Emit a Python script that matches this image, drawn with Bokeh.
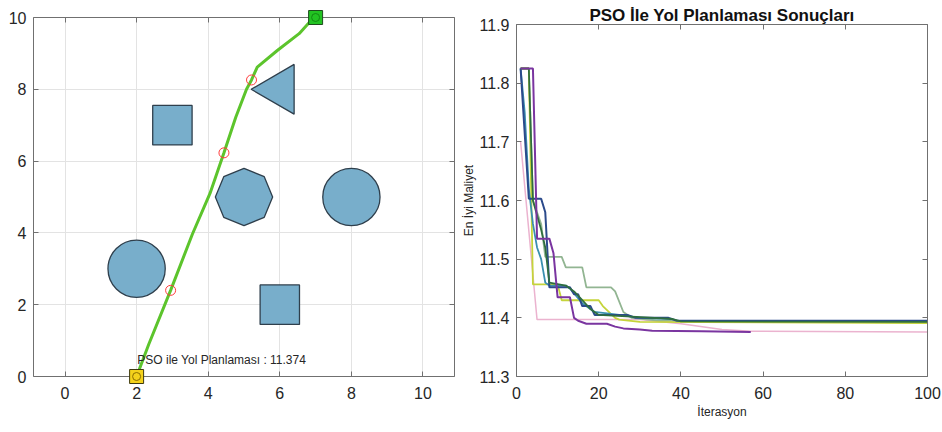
import numpy as np
from bokeh.plotting import figure
from bokeh.layouts import row, column
from bokeh.models import Range1d, FixedTicker, LinearAxis, PrintfTickFormatter, CustomJSTickFormatter
from bokeh.core.properties import value
from bokeh.embed import file_html
from bokeh.resources import INLINE

FONT = "Liberation Sans"

# ---------------- Left: path planning map ----------------
circle_x = [2, 8]
circle_y = [3, 5]
circle_r = [0.8, 0.8]
square_x = [3, 6]
square_y = [7, 2]
square_side = [1.1, 1.1]
poly_x = [6, 5]
poly_y = [8, 5]
poly_r = [0.8, 0.8]
poly_sides = [3, 8]
poly_start_deg = [180, 90]

path_x = [2.00, 2.34, 2.95, 3.56, 4.05, 4.44, 4.77, 5.07, 5.21, 5.37, 5.93, 6.54, 6.86, 7.00]
path_y = [0.00, 0.90, 2.40, 3.97, 5.10, 6.23, 7.22, 8.00, 8.26, 8.62, 9.08, 9.55, 9.90, 10.00]
way_x = [2.95, 4.44, 5.21]
way_y = [2.40, 6.23, 8.26]
start_x, start_y = [2], [0]
goal_x, goal_y = [7], [10]
cost_text = ["PSO ile Yol Planlaması : 11.374"]
cost_x, cost_y = [2.02], [0.46]
map_ticks = [0, 2, 4, 6, 8, 10]

# ---------------- Right: convergence curves ----------------
conv_title = "PSO İle Yol Planlaması Sonuçları"
conv_xlabel = "İterasyon"
conv_ylabel = "En İyi Maliyet"
conv_xticks = [0, 20, 40, 60, 80, 100]
conv_yticks = [11.3, 11.4, 11.5, 11.6, 11.7, 11.8, 11.9]

pink_it = [1, 5, 30, 40, 50, 57, 100]
pink_v = [11.70, 11.397, 11.397, 11.39, 11.38, 11.377, 11.376]
graygreen_it = [1, 3, 4, 6, 7, 11, 12, 16, 17, 23, 24, 26, 28, 35, 100]
graygreen_v = [11.825, 11.825, 11.60, 11.56, 11.504, 11.504, 11.486, 11.486, 11.452, 11.452, 11.445, 11.41, 11.40, 11.395, 11.392]
yellowgreen_it = [1, 3, 4, 10, 11, 20, 21, 24, 25, 30, 100]
yellowgreen_v = [11.825, 11.825, 11.457, 11.457, 11.43, 11.43, 11.42, 11.40, 11.397, 11.393, 11.391]
teal_it = [1, 2, 3, 4, 5, 6, 7, 8, 12, 13, 16, 19, 25, 30, 38]
teal_v = [11.825, 11.75, 11.62, 11.56, 11.52, 11.50, 11.46, 11.455, 11.455, 11.45, 11.425, 11.41, 11.405, 11.40, 11.398]
navy_it = [1, 3, 6, 7, 8, 13, 14, 15, 16, 18, 19, 27, 29, 37, 39, 100]
navy_v = [11.825, 11.603, 11.603, 11.58, 11.452, 11.452, 11.44, 11.44, 11.42, 11.42, 11.405, 11.405, 11.40, 11.40, 11.395, 11.395]
darkgreen_it = [1, 3, 4, 6, 7, 8, 12, 14, 16, 18, 20, 28, 38, 40, 100]
darkgreen_v = [11.825, 11.825, 11.60, 11.55, 11.52, 11.46, 11.455, 11.445, 11.43, 11.415, 11.405, 11.402, 11.398, 11.394, 11.393]
purple_it = [1, 4, 5, 8, 9, 10, 13, 14, 15, 17, 22, 24, 26, 30, 33, 45, 57]
purple_v = [11.825, 11.825, 11.535, 11.535, 11.51, 11.435, 11.435, 11.40, 11.395, 11.39, 11.39, 11.385, 11.382, 11.38, 11.378, 11.377, 11.376]

AXIS_COL = "#707070"
LABEL_COL = "#262626"


def style_axes(p, xticks, yticks, grid):
    xb = p.below[0]
    yl = p.left[0]
    for ax in (xb, yl):
        ax.axis_line_color = AXIS_COL
        ax.major_tick_line_color = AXIS_COL
        ax.minor_tick_line_color = None
        ax.major_tick_in = 5
        ax.major_tick_out = 0
        ax.major_label_text_font = FONT
        ax.major_label_text_font_size = "16px"
        ax.major_label_text_color = LABEL_COL
    xb.ticker = FixedTicker(ticks=xticks)
    yl.ticker = FixedTicker(ticks=yticks)
    xb.major_label_standoff = 10
    yl.major_label_standoff = 7
    blank = CustomJSTickFormatter(code="return ''")
    top = LinearAxis(ticker=FixedTicker(ticks=xticks), formatter=blank,
                     axis_line_color=AXIS_COL, major_tick_line_color=AXIS_COL,
                     minor_tick_line_color=None, major_tick_in=5, major_tick_out=0,
                     major_label_standoff=0, major_label_text_font_size="1px")
    right = LinearAxis(ticker=FixedTicker(ticks=yticks), formatter=blank,
                       axis_line_color=AXIS_COL, major_tick_line_color=AXIS_COL,
                       minor_tick_line_color=None, major_tick_in=5, major_tick_out=0,
                       major_label_standoff=0, major_label_text_font_size="1px")
    p.add_layout(top, "above")
    p.add_layout(right, "right")
    if grid:
        p.xgrid.ticker = FixedTicker(ticks=xticks)
        p.ygrid.ticker = FixedTicker(ticks=yticks)
        p.grid.grid_line_color = "#e3e3e3"
        p.grid.grid_line_width = 1
    else:
        p.grid.grid_line_color = None
    p.outline_line_color = None
    return xb, yl


# ---------- left figure ----------
p1 = figure(width=458, height=432, output_backend="svg", toolbar_location=None,
            title_location=None,
            x_range=Range1d(-0.88, 10.88), y_range=Range1d(0, 10),
            min_border_left=33, min_border_right=4, min_border_top=17, min_border_bottom=56)
style_axes(p1, map_ticks, map_ticks, True)

SHAPE_FILL = "#78aecb"
SHAPE_LINE = "#2f3f4c"
p1.circle(x=circle_x, y=circle_y, radius=circle_r, fill_color=SHAPE_FILL,
          line_color=SHAPE_LINE, line_width=1.3)
p1.rect(x=square_x, y=square_y, width=square_side, height=square_side,
        fill_color=SHAPE_FILL, line_color=SHAPE_LINE, line_width=1.3)
pxs, pys = [], []
for cx, cy, r, n, a0 in zip(poly_x, poly_y, poly_r, poly_sides, poly_start_deg):
    ang = np.deg2rad(a0) + np.arange(n) * 2 * np.pi / n
    pxs.append(list(cx + r * np.cos(ang)))
    pys.append(list(cy + r * np.sin(ang)))
p1.patches(xs=pxs, ys=pys, fill_color=SHAPE_FILL, line_color=SHAPE_LINE, line_width=1.3)

p1.line(path_x, path_y, line_color="#5cc42c", line_width=3)
p1.scatter(way_x, way_y, marker="circle", size=10, fill_color=None,
           line_color="#ff3b3b", line_width=1)
p1.scatter(start_x, start_y, marker="square", size=14, fill_color="#f4d21c",
           line_color="#3d3a10", line_width=1, level="overlay")
p1.scatter(start_x, start_y, marker="circle", size=8, fill_color=None,
           line_color="#8a6d00", line_width=1, level="overlay")
p1.scatter(goal_x, goal_y, marker="square", size=14, fill_color="#22c322",
           line_color="#1d4d1d", line_width=1, level="overlay")
p1.scatter(goal_x, goal_y, marker="circle", size=8, fill_color=None,
           line_color="#128a12", line_width=1, level="overlay")
p1.text(x=cost_x, y=cost_y, text=cost_text, text_font=value(FONT),
        text_font_size="12px", text_color=LABEL_COL, text_baseline="middle",
        text_align="left")

# ---------- right figure ----------
p2 = figure(width=484, height=432, output_backend="svg", toolbar_location=None,
            x_range=Range1d(0, 100), y_range=Range1d(11.3, 11.9),
            min_border_left=54, min_border_right=15, min_border_top=24, min_border_bottom=56)
xb2, yl2 = style_axes(p2, conv_xticks, conv_yticks, False)
yl2.formatter = PrintfTickFormatter(format="%.1f")
p2.title.text = conv_title
p2.title.align = "center"
p2.title.text_font = FONT
p2.title.text_font_size = "17px"
p2.title.text_font_style = "bold"
p2.title.text_color = "#111111"
p2.title.standoff = 0
p2.title.offset = 0
xb2.axis_label = conv_xlabel
yl2.axis_label = conv_ylabel
for ax in (xb2, yl2):
    ax.axis_label_text_font = FONT
    ax.axis_label_text_font_size = "12px"
    ax.axis_label_text_font_style = "normal"
    ax.axis_label_text_color = LABEL_COL
xb2.axis_label_standoff = 3
yl2.axis_label_standoff = 1

p2.line(pink_it, pink_v, line_color="#ebb3cf", line_width=1.5)
p2.line(graygreen_it, graygreen_v, line_color="#92b592", line_width=1.8)
p2.line(yellowgreen_it, yellowgreen_v, line_color="#c5d43a", line_width=1.8)
p2.line(teal_it, teal_v, line_color="#3a8fb0", line_width=1.8)
p2.line(navy_it, navy_v, line_color="#2b4a8b", line_width=2)
p2.line(darkgreen_it, darkgreen_v, line_color="#2f6e3f", line_width=1.8)
p2.line(purple_it, purple_v, line_color="#7a35a0", line_width=2)

layout = row(column(p1), column(p2))
open("out.html", "w").write(file_html(layout, INLINE))
